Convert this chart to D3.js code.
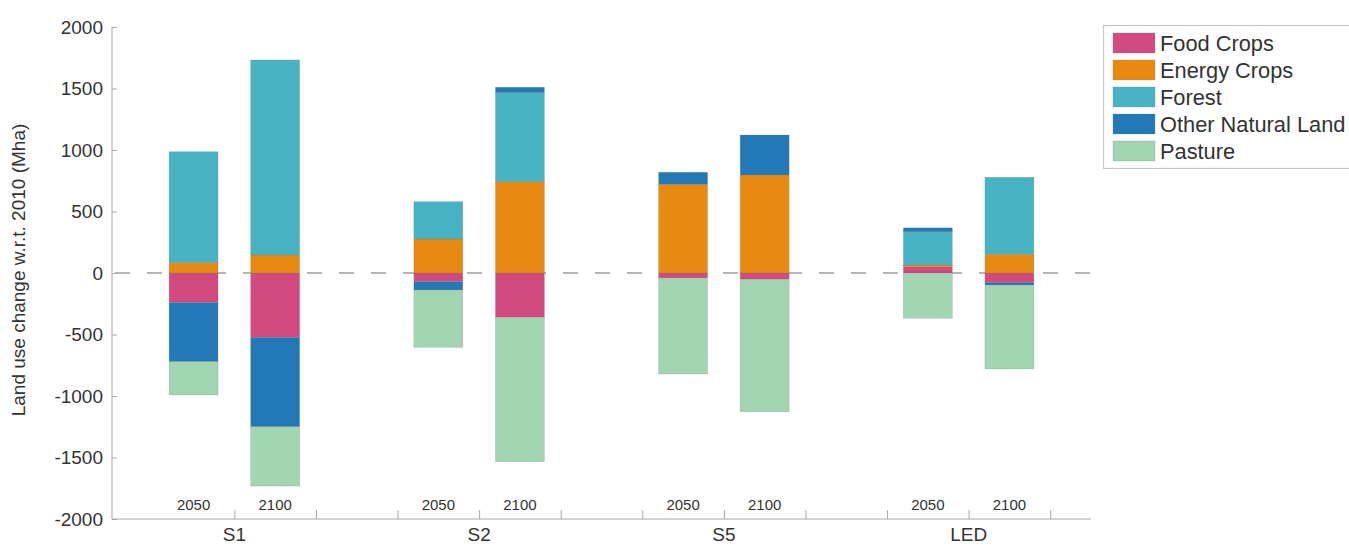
<!DOCTYPE html>
<html>
<head>
<meta charset="utf-8">
<script src="https://cdn.jsdelivr.net/npm/d3@7"></script>
<style>
  html, body { margin: 0; padding: 0; background: #fff; overflow: hidden; }
  svg { display: block; font-family: "Liberation Sans", Arial, sans-serif; }
</style>
</head>
<body>
<svg id="chart" width="1349" height="546"></svg>
<script>
// ---- data ----
const scenarios = ["S1", "S2", "S5", "LED"];
const years = ["2050", "2100"];
const seriesNames = ["Food Crops", "Energy Crops", "Forest", "Other Natural Land", "Pasture"];
// values per bar, order: S1-2050, S1-2100, S2-2050, S2-2100, S5-2050, S5-2100, LED-2050, LED-2100 (Mha)
const foodCrops    = [-241, -523,  -70, -360,  -40,   -51,   50,  -79];
const energyCrops  = [  84,  146,  276,  742,  721,   797,   15,  152];
const forest       = [ 902, 1586,  304,  724,    0,     0,  270,  626];
const otherNatural = [-480, -727,  -68,   44,   98,   325,   32,  -19];
const pasture      = [-271, -482, -466,-1174, -781, -1077, -368, -682];
const yTicks = [-2000, -1500, -1000, -500, 0, 500, 1000, 1500, 2000];
const colors = ["#d24a80", "#e98a10", "#47b3c3", "#2379b5", "#a2d5b1"];

// ---- build table ----
const seriesValues = [foodCrops, energyCrops, forest, otherNatural, pasture];
const rows = [];
scenarios.forEach((s, si) => {
  years.forEach((yr, yi) => {
    const k = si * 2 + yi;
    const row = { scenario: s, year: yr, slot: si * 3 + yi + 1 };
    seriesNames.forEach((n, ni) => { row[n] = seriesValues[ni][k]; });
    rows.push(row);
  });
});

const svg = d3.select("#chart");
const x = d3.scaleLinear().domain([0, 12]).range([112, 1091]);
const y = d3.scaleLinear().domain([-2000, 2000]).range([519, 27]);
const barW = x(0.6) - x(0);
const textColor = "#333";
const axisColor = "#a8a8a8";

const stack = d3.stack().keys(seriesNames).offset(d3.stackOffsetDiverging);
const stacked = stack(rows);

// zero dashed line
svg.append("line")
  .attr("x1", x(0) + 3).attr("x2", x(12))
  .attr("y1", y(0)).attr("y2", y(0))
  .attr("stroke", "#a0a0a0").attr("stroke-width", 1.3)
  .attr("stroke-dasharray", "15,17");

// bars
const g = svg.append("g");
stacked.forEach((layer, li) => {
  g.selectAll(null).data(layer).enter().append("rect")
    .attr("x", d => x(d.data.slot) - barW / 2)
    .attr("width", barW)
    .attr("y", d => y(Math.max(d[0], d[1])))
    .attr("height", d => Math.abs(y(d[0]) - y(d[1])))
    .attr("fill", colors[li])
    .attr("stroke", d => (d[1] - d[0]) === 0 ? "none" : "rgba(120,120,120,0.35)")
    .attr("stroke-width", 0.6);
});

// y axis
const yAxis = d3.axisLeft(y).tickValues(yTicks).tickSize(-5).tickPadding(10).tickFormat(d => String(d));
const ya = svg.append("g").attr("transform", `translate(${x(0)},0)`).call(yAxis);
ya.select(".domain").attr("stroke", axisColor).attr("d", `M0,${y(2000)}V${y(-2000)}`);
ya.selectAll(".tick line").attr("stroke", axisColor).attr("x2", 5);
ya.selectAll(".tick text").attr("fill", textColor).attr("font-size", 19)
  .attr("font-family", "Liberation Sans, Arial, sans-serif").attr("x", -9);

// x axis
const xTickVals = d3.range(1.5, 12, 1);
const xAxis = d3.axisBottom(x).tickValues(xTickVals).tickSize(-9).tickFormat("");
const xa = svg.append("g").attr("transform", `translate(0,${y(-2000)})`).call(xAxis);
xa.select(".domain").attr("stroke", axisColor).attr("d", `M${x(0)},0H${x(12)}`);
xa.selectAll(".tick line").attr("stroke", axisColor);

// year labels
svg.selectAll(".yr").data(rows).enter().append("text")
  .attr("x", d => x(d.slot)).attr("y", 510)
  .attr("text-anchor", "middle").attr("font-size", 15).attr("fill", textColor)
  .text(d => d.year);

// scenario labels
svg.selectAll(".sc").data(scenarios).enter().append("text")
  .attr("x", (d, i) => x(i * 3 + 1.5)).attr("y", 541)
  .attr("text-anchor", "middle").attr("font-size", 19).attr("fill", textColor)
  .text(d => d);

// y axis label
svg.append("text")
  .attr("transform", `translate(25,270) rotate(-90)`)
  .attr("text-anchor", "middle").attr("font-size", 19).attr("fill", textColor)
  .text("Land use change w.r.t. 2010 (Mha)");

// legend
const lg = svg.append("g");
lg.append("rect").attr("x", 1103.5).attr("y", 25.5).attr("width", 260).attr("height", 143)
  .attr("fill", "#fff").attr("stroke", "#c8c8c8").attr("stroke-width", 1.2);
seriesNames.forEach((n, i) => {
  const yy = 33 + i * 27;
  lg.append("rect").attr("x", 1113).attr("y", yy).attr("width", 42).attr("height", 20)
    .attr("fill", colors[i]).attr("stroke", "rgba(120,120,120,0.4)").attr("stroke-width", 0.6);
  lg.append("text").attr("x", 1160).attr("y", yy + 18)
    .attr("font-size", 21.8).attr("fill", textColor).text(n);
});
</script>
</body>
</html>
